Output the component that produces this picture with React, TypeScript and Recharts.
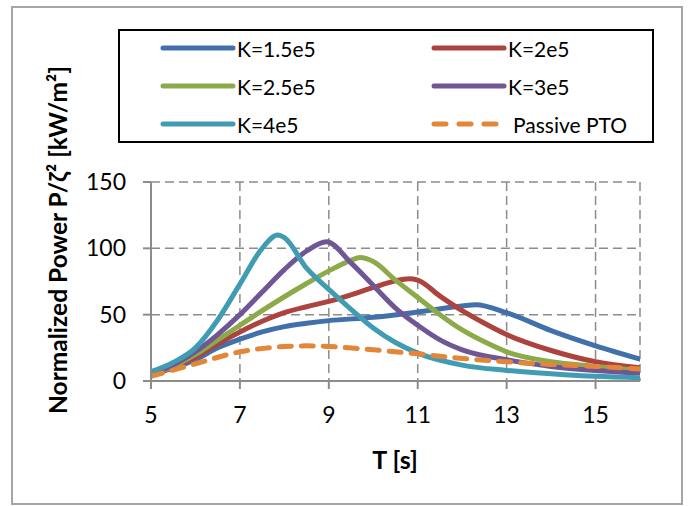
import React from 'react';
import { LineChart, Line, XAxis, YAxis, CartesianGrid, Legend } from 'recharts';

// Tick labels
const xTicks = [5, 7, 9, 11, 13, 15];
const yTicks = [0, 50, 100, 150];

// K=1.5e5
const tK15 = [5, 5.5, 6, 6.5, 7, 7.5, 8, 8.5, 9, 10, 11, 12, 12.3, 13, 14, 15, 16];
const vK15 = [6, 10, 16, 25, 31.5, 37, 41, 43.5, 45.5, 48, 52, 56.5, 57.5, 51.5, 38, 26.5, 16.5];

// K=2e5
const tK20 = [5, 5.5, 6, 6.5, 7, 7.5, 8, 8.5, 9, 9.5, 10, 10.5, 10.8, 11, 11.5, 12, 12.5, 13, 14, 15, 16];
const vK20 = [5, 10, 18, 28, 37, 45, 51.5, 56, 60, 65, 70.5, 75.5, 77, 76, 64, 53, 43.5, 35, 23, 14.5, 10];

// K=2.5e5
const tK25 = [5, 5.5, 6, 6.5, 7, 7.5, 8, 8.5, 9, 9.5, 9.7, 10, 10.5, 11, 11.5, 12, 12.5, 13, 14, 15, 16];
const vK25 = [5, 11, 20, 31, 42, 53, 63.5, 73.5, 83, 91, 93, 90, 76, 63, 50, 38.5, 29.5, 22, 14.5, 11, 8];

// K=3e5
const tK30 = [5, 5.5, 6, 6.5, 7, 7.5, 8, 8.5, 8.95, 9.5, 10, 10.5, 11, 11.5, 12, 13, 14, 15, 16];
const vK30 = [5, 12, 22, 35, 50, 67, 84, 98, 105, 89, 72, 55, 42, 31, 23.5, 16, 11, 8, 6];

// K=4e5
const tK40 = [5, 5.5, 6, 6.5, 7, 7.5, 7.85, 8, 8.5, 9, 9.5, 10, 10.5, 11, 12, 13, 14, 15, 16];
const vK40 = [7, 14, 25, 46, 73, 100, 110, 108, 85, 69, 54, 40, 29, 21, 12, 8, 5.5, 3.5, 2.5];

// Passive PTO
const tPas = [5, 6, 7, 8, 8.5, 9, 10, 11, 12, 13, 14, 15, 16];
const vPas = [3.5, 13, 22, 26, 26.5, 26, 23.5, 20.5, 17, 14.5, 12.5, 11, 9];

const names = ['K=1.5e5', 'K=2e5', 'K=2.5e5', 'K=3e5', 'K=4e5', 'Passive PTO'];
const colors = ['#4170AA', '#AD433F', '#8DAA4B', '#6F5796', '#3F9CB3', '#E38637'];
const tArrays = [tK15, tK20, tK25, tK30, tK40, tPas];
const vArrays = [vK15, vK20, vK25, vK30, vK40, vPas];

const series = names.map((name, i) => ({
  name,
  color: colors[i],
  dashed: i === 5,
  data: tArrays[i].map((t, j) => ({ T: t, v: vArrays[i][j] })),
}));

const FONT = 'Lato, "Noto Sans", sans-serif';

const legendContent = () => {
  const rows = [
    [0, 1],
    [2, 3],
    [4, 5],
  ];
  return (
    <div
      style={{
        position: 'relative',
        width: 536,
        height: 114,
        border: '2px solid #000',
        boxSizing: 'border-box',
        background: '#fff',
        fontFamily: FONT,
      }}
    >
      {rows.map((row, r) =>
        row.map((idx, c) => {
          const s = series[idx];
          const left = c === 0 ? 40 : 311;
          const top = 17 + r * 38;
          return (
            <div key={s.name} style={{ position: 'absolute', left, top: top - 13, height: 26, display: 'flex', alignItems: 'center' }}>
              <svg width={76} height={24} style={{ display: 'block' }}>
                <line
                  x1={3}
                  x2={73}
                  y1={12}
                  y2={12}
                  stroke={s.color}
                  strokeWidth={5}
                  strokeLinecap="round"
                  strokeDasharray={s.dashed ? '12 13' : undefined}
                />
              </svg>
              <span style={{ fontSize: 21, color: '#000', marginLeft: s.dashed ? 6 : 1, whiteSpace: 'nowrap' }}>{s.name}</span>
            </div>
          );
        })
      )}
    </div>
  );
};

const YLabel = () => (
  <text
    x={57}
    y={240}
    transform="rotate(-90 57 240)"
    textAnchor="middle"
    dominantBaseline="central"
    fontFamily={FONT}
    fontWeight="bold"
    fontSize={24.5}
    fill="#000"
  >
    Normalized Power P/ζ² [kW/m²]
  </text>
);

const XLabel = () => (
  <text
    x={395}
    y={459}
    textAnchor="middle"
    dominantBaseline="central"
    fontFamily={FONT}
    fontWeight="bold"
    fontSize={25}
    fill="#000"
  >
    T [s]
  </text>
);

export default function App() {
  return (
    <div style={{ position: 'absolute', left: 0, top: 0, width: 690, height: 506, background: '#fff' }}>
      <div
        style={{
          position: 'absolute',
          left: 11,
          top: 6,
          width: 672,
          height: 499,
          border: '2px solid #A6A6A6',
          boxSizing: 'border-box',
        }}
      />
      <LineChart width={690} height={506} margin={{ top: 182, right: 50, bottom: 95, left: 0 }}>
        <CartesianGrid stroke="#8C8C8C" strokeWidth={1.5} strokeDasharray="9 5" />
        <XAxis
          type="number"
          dataKey="T"
          domain={[5, 16]}
          ticks={xTicks}
          height={30}
          allowDataOverflow
          axisLine={{ stroke: '#8C8C8C', strokeWidth: 2 }}
          tickLine={{ stroke: '#8C8C8C', strokeWidth: 2 }}
          tickSize={8}
          tickMargin={18}
          tick={{ fontSize: 23, fill: '#000', fontFamily: FONT }}
          label={XLabel}
        />
        <YAxis
          type="number"
          domain={[0, 150]}
          ticks={yTicks}
          width={151}
          axisLine={{ stroke: '#8C8C8C', strokeWidth: 2 }}
          tickLine={{ stroke: '#8C8C8C', strokeWidth: 2 }}
          tickSize={8}
          tickMargin={17}
          tick={{ fontSize: 23, fill: '#000', fontFamily: FONT }}
          label={YLabel}
        />
        {series.map((s) => (
          <Line
            key={s.name}
            data={s.data}
            dataKey="v"
            name={s.name}
            type="monotone"
            stroke={s.color}
            strokeWidth={5}
            strokeDasharray={s.dashed ? '12 10' : undefined}
            strokeLinecap="round"
            dot={false}
            activeDot={false}
            isAnimationActive={false}
          />
        ))}
        <Legend
          layout="horizontal"
          align="center"
          verticalAlign="middle"
          content={legendContent}
          wrapperStyle={{ position: 'absolute', left: 118, top: 29, width: 536, height: 114 }}
        />
      </LineChart>
    </div>
  );
}
